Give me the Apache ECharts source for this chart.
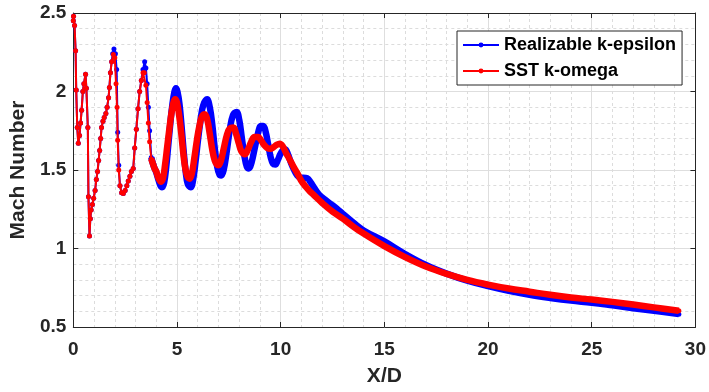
<!DOCTYPE html>
<html>
<head>
<meta charset="utf-8">
<script src="https://cdn.jsdelivr.net/npm/echarts@6/dist/echarts.min.js"></script>
<style>
  html, body { margin: 0; padding: 0; background: #fff; }
  #chart { width: 709px; height: 392px; }
</style>
</head>
<body>
<div id="chart"></div>
<script>
// ---- Data ----
const seriesNames = ['Realizable k-epsilon', 'SST k-omega'];
const xTicks = [0, 5, 10, 15, 20, 25, 30];
const yTicks = ['0.5', '1', '1.5', '2', '2.5'];

const keX = [0.00,0.01,0.06,0.11,0.14,0.19,0.24,0.30,0.35,0.40,0.46,0.51,0.59,0.63,0.70,0.73,0.78,0.82,0.86,0.92,0.98,1.05,1.11,1.17,1.22,1.27,1.32,1.36,1.43,1.49,1.57,1.63,1.70,1.74,1.79,1.85,1.90,1.96,2.03,2.09,2.14,2.19,2.25,2.33,2.41,2.50,2.58,2.65,2.73,2.80,2.89,2.96,3.04,3.12,3.20,3.28,3.36,3.44,3.50,3.56,3.62,3.68,
  3.76,3.84,3.92,4.00,4.10,4.20,4.28,4.38,4.48,4.58,4.68,4.78,4.88,4.95,5.02,5.12,5.22,5.32,5.42,5.52,5.66,5.78,5.90,6.02,6.14,6.26,6.45,6.58,6.70,6.82,6.94,7.05,7.13,7.25,7.40,7.55,7.70,7.87,8.00,8.12,8.25,8.37,8.47,8.60,8.75,8.90,9.05,9.16,9.28,9.40,9.52,9.63,9.74,9.85,9.98,10.10,10.22,10.35,10.50,10.65,10.80,10.95,11.10,11.28,11.45,11.60,11.84,12.10,12.40,12.70,13.00,13.50,14,15,16,17,18,19,20,21,22,23,24,25,26,27,28,29.2];
const keY = [2.45,2.48,2.42,2.26,2.01,1.77,1.67,1.72,1.80,1.88,2.00,2.05,2.11,2.02,1.77,1.33,1.08,1.19,1.245,1.28,1.32,1.37,1.44,1.49,1.56,1.625,1.70,1.77,1.81,1.835,1.86,1.90,1.96,2.025,2.12,2.19,2.24,2.27,2.24,2.14,1.74,1.53,1.40,1.355,1.35,1.37,1.40,1.43,1.46,1.49,1.51,1.64,1.76,1.89,2.00,2.07,2.14,2.19,2.15,2.05,1.90,1.75,
  1.58,1.54,1.51,1.485,1.44,1.40,1.39,1.42,1.52,1.66,1.80,1.92,2.00,2.02,2.00,1.92,1.78,1.62,1.49,1.41,1.39,1.44,1.56,1.70,1.82,1.91,1.95,1.90,1.79,1.64,1.52,1.47,1.465,1.50,1.62,1.76,1.85,1.87,1.82,1.71,1.59,1.52,1.51,1.55,1.64,1.73,1.78,1.78,1.74,1.66,1.58,1.54,1.535,1.56,1.60,1.625,1.63,1.60,1.545,1.50,1.465,1.45,1.45,1.447,1.42,1.39,1.345,1.315,1.285,1.255,1.22,1.165,1.115,1.045,0.965,0.895,0.84,0.795,0.76,0.73,0.705,0.685,0.668,0.655,0.638,0.62,0.603,0.582];

const skX = [0.00,0.01,0.06,0.11,0.14,0.19,0.24,0.30,0.35,0.40,0.46,0.51,0.59,0.63,0.70,0.73,0.78,0.82,0.86,0.92,0.98,1.05,1.11,1.17,1.22,1.27,1.32,1.36,1.43,1.49,1.57,1.63,1.70,1.74,1.79,1.85,1.93,2.00,2.06,2.11,2.14,2.19,2.25,2.33,2.41,2.50,2.58,2.65,2.73,2.80,2.89,2.96,3.04,3.12,3.20,3.28,3.36,3.42,3.50,3.56,3.62,3.68,
  3.76,3.84,3.92,4.00,4.10,4.23,4.33,4.43,4.53,4.63,4.73,4.83,4.91,5.00,5.10,5.20,5.30,5.40,5.50,5.61,5.72,5.84,5.96,6.08,6.20,6.34,6.46,6.58,6.70,6.82,6.92,7.00,7.12,7.26,7.40,7.55,7.72,7.85,7.98,8.10,8.27,8.42,8.58,8.74,8.90,9.05,9.20,9.35,9.50,9.65,9.80,9.95,10.10,10.25,10.40,10.60,10.80,11.00,11.20,11.40,11.60,12.00,12.50,13.00,13.50,14,15,16,17,18,19,20,21,22,23,24,25,26,27,28,29.2];
const skY = [2.45,2.48,2.42,2.26,2.01,1.77,1.67,1.72,1.80,1.88,2.00,2.05,2.11,2.02,1.77,1.33,1.08,1.19,1.245,1.28,1.32,1.37,1.44,1.49,1.56,1.625,1.70,1.77,1.81,1.835,1.86,1.90,1.96,2.025,2.12,2.19,2.235,2.215,2.05,1.90,1.69,1.50,1.40,1.355,1.35,1.37,1.40,1.43,1.46,1.49,1.51,1.64,1.76,1.89,2.00,2.07,2.12,2.12,2.04,1.93,1.80,1.68,
  1.57,1.54,1.51,1.49,1.45,1.425,1.45,1.54,1.65,1.76,1.86,1.93,1.95,1.93,1.85,1.74,1.61,1.51,1.46,1.445,1.48,1.58,1.69,1.78,1.84,1.855,1.82,1.73,1.63,1.56,1.535,1.53,1.56,1.64,1.72,1.765,1.77,1.73,1.67,1.62,1.60,1.63,1.68,1.71,1.71,1.69,1.66,1.64,1.635,1.645,1.66,1.667,1.65,1.61,1.575,1.525,1.48,1.43,1.395,1.365,1.34,1.29,1.235,1.19,1.14,1.095,1.015,0.945,0.885,0.838,0.80,0.77,0.745,0.725,0.705,0.688,0.675,0.66,0.643,0.625,0.603];

// ---- Build chart ----
const pairs = (xs, ys) => xs.map((x, i) => [x, ys[i]]);
const tail = (xs, ys, from) => pairs(xs, ys).filter(p => p[0] >= from);
const FONT = '"Liberation Sans", Arial, Helvetica, sans-serif';
const TXT = '#262626';
const BLUE = '#0000ff', RED = '#ff0000';

const axisCommon = {
  axisLine: { show: true, onZero: false, lineStyle: { color: TXT, width: 1 } },
  axisTick: { show: true, inside: true, length: 5, lineStyle: { color: TXT } },
};

const chart = echarts.init(document.getElementById('chart'), null, { renderer: 'canvas' });
chart.setOption({
  animation: false,
  backgroundColor: '#ffffff',
  grid: { left: 66, right: 12, top: 13, bottom: 62, containLabel: false },
  xAxis: [
    Object.assign({}, axisCommon, {
      type: 'value', min: 0, max: 30, interval: 5, position: 'bottom',
      name: 'X/D', nameLocation: 'middle', nameGap: 39,
      nameTextStyle: { fontFamily: FONT, fontWeight: 'bold', fontSize: 21, color: TXT },
      axisLabel: { fontFamily: FONT, fontWeight: 'bold', fontSize: 19, color: TXT, margin: 13,
        formatter: v => { const i = xTicks.indexOf(v); return i >= 0 ? String(xTicks[i]) : ''; } },
      splitLine: { show: true, lineStyle: { color: '#dedede', width: 1 } },
      minorSplitLine: { show: true, lineStyle: { color: '#dcdcdc', width: 1, type: [3, 3] } },
      minorTick: { show: false, splitNumber: 5 },
    }),
    Object.assign({}, axisCommon, {
      type: 'value', min: 0, max: 30, interval: 5, position: 'top',
      axisLabel: { show: false }, splitLine: { show: false },
    }),
  ],
  yAxis: [
    Object.assign({}, axisCommon, {
      type: 'value', min: 0.5, max: 2.5, interval: 0.5, position: 'left',
      name: 'Mach Number', nameLocation: 'middle', nameGap: 43,
      nameTextStyle: { fontFamily: FONT, fontWeight: 'bold', fontSize: 21, color: TXT },
      axisLabel: { fontFamily: FONT, fontWeight: 'bold', fontSize: 19, color: TXT, margin: 7,
        formatter: v => { const i = Math.round((v - 0.5) / 0.5); return yTicks[i] !== undefined ? yTicks[i] : ''; } },
      splitLine: { show: true, lineStyle: { color: '#dedede', width: 1 } },
      minorSplitLine: { show: true, lineStyle: { color: '#dcdcdc', width: 1, type: [3, 3] } },
      minorTick: { show: false, splitNumber: 5 },
    }),
    Object.assign({}, axisCommon, {
      type: 'value', min: 0.5, max: 2.5, interval: 0.5, position: 'right',
      axisLabel: { show: false }, splitLine: { show: false },
    }),
  ],
  legend: {
    data: seriesNames,
    orient: 'vertical',
    left: 457, top: 31,
    padding: [4, 6, 4, 5],
    itemWidth: 36, itemHeight: 6, itemGap: 6,
    backgroundColor: '#ffffff',
    borderColor: TXT, borderWidth: 1, borderRadius: 0,
    textStyle: { fontFamily: FONT, fontWeight: 'bold', fontSize: 18, color: '#000', lineHeight: 20 },
  },
  series: [
    {
      name: seriesNames[0], type: 'line', data: pairs(keX, keY),
      symbol: 'circle', symbolSize: 5, showSymbol: true, showAllSymbol: true,
      lineStyle: { color: BLUE, width: 2 }, itemStyle: { color: BLUE }, z: 2,
    },
    {
      name: 'ke-thick', type: 'line', data: tail(keX, keY, 3.75),
      showSymbol: false, smooth: 0.4, silent: true,
      lineStyle: { color: BLUE, width: 6.5 }, itemStyle: { color: BLUE }, z: 3,
    },
    {
      name: seriesNames[1], type: 'line', data: pairs(skX, skY),
      symbol: 'circle', symbolSize: 5, showSymbol: true, showAllSymbol: true,
      lineStyle: { color: RED, width: 2 }, itemStyle: { color: RED }, z: 4,
    },
    {
      name: 'sst-thick', type: 'line', data: tail(skX, skY, 3.75),
      showSymbol: false, smooth: 0.4, silent: true,
      lineStyle: { color: RED, width: 6.5 }, itemStyle: { color: RED }, z: 5,
    },
  ],
});
</script>
</body>
</html>
